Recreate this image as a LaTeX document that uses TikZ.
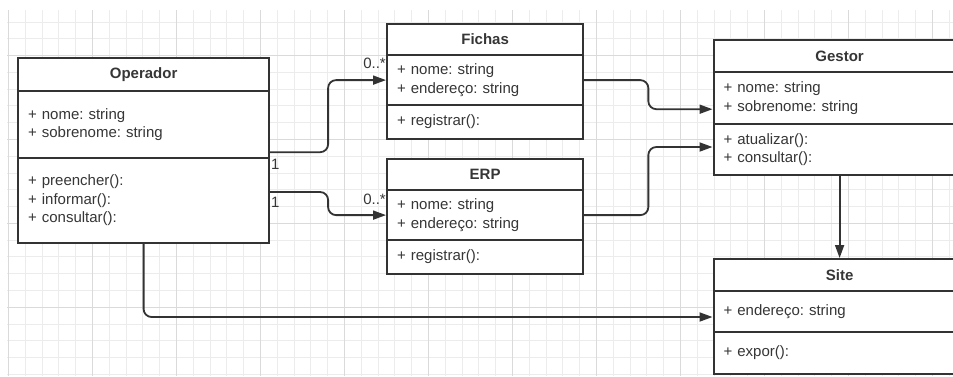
\documentclass[tikz,border=0pt]{standalone}
\usepackage{fontspec}
\setmainfont{Liberation Sans}
\usetikzlibrary{arrows.meta,calc}

\definecolor{ink}{HTML}{333333}
\definecolor{txt}{HTML}{363636}
\definecolor{gridminor}{HTML}{ECECEC}
\definecolor{gridmajor}{HTML}{DADADA}

\tikzset{
  comp/.style={draw=ink, line width=2.2pt, fill=white, anchor=north west,
    inner xsep=10pt, inner ysep=0pt, text=txt, align=left,
    font=\fontsize{15}{18.5}\selectfont},
  head/.style={comp, align=center, font=\fontsize{15}{18}\selectfont\bfseries},
  conn/.style={draw=ink, line width=1.8pt, rounded corners=8pt,
    -{Triangle[length=13pt,width=9pt]}},
  mult/.style={text=txt, inner sep=0pt, font=\fontsize{15}{15}\selectfont},
}

\begin{document}
\frenchspacing
\begin{tikzpicture}[x=1pt,y=-1pt]
  \fill[white] (0,0) rectangle (953,376);
  \path[use as bounding box, clip] (0,0) rectangle (953,376);

  % background grid
  \foreach \k in {0,...,56}
    \draw[gridminor, line width=1pt] ({8.5+16.8*\k},10) -- ({8.5+16.8*\k},376);
  \foreach \k in {0,...,21}
    \draw[gridminor, line width=1pt] (7,{22+16.78*\k}) -- (953,{22+16.78*\k});
  \foreach \k in {0,5,...,55}
    \draw[gridmajor, line width=1pt] ({8.5+16.8*\k},10) -- ({8.5+16.8*\k},376);
  \foreach \k in {2,7,12,17}
    \draw[gridmajor, line width=1pt] (7,{22+16.78*\k}) -- (953,{22+16.78*\k});

  % Operador
  \node[head, text width=231pt, minimum height=33pt] (op-t) at (17,57) {Operador};
  \node[comp, text width=231pt, minimum height=67pt] (op-a) at (17,90)
    {+ nome: string\\+ sobrenome: string};
  \node[comp, text width=231pt, minimum height=85pt] (op-m) at (17,157)
    {+ preencher():\\+ informar():\\+ consultar():};

  % Fichas
  \node[head, text width=176pt, minimum height=31pt] (fi-t) at (386,23) {Fichas};
  \node[comp, text width=176pt, minimum height=50pt] (fi-a) at (386,54)
    {+ nome: string\\+ endereço: string};
  \node[comp, text width=176pt, minimum height=34pt] (fi-m) at (386,104)
    {+ registrar():};

  % ERP
  \node[head, text width=176pt, minimum height=31pt] (er-t) at (386,158) {ERP};
  \node[comp, text width=176pt, minimum height=50pt] (er-a) at (386,189)
    {+ nome: string\\+ endereço: string};
  \node[comp, text width=176pt, minimum height=34pt] (er-m) at (386,239)
    {+ registrar():};

  % Gestor
  \node[head, text width=232pt, minimum height=32pt] (ge-t) at (712.5,39) {Gestor};
  \node[comp, text width=232pt, minimum height=52pt] (ge-a) at (712.5,71)
    {+ nome: string\\+ sobrenome: string};
  \node[comp, text width=232pt, minimum height=51pt] (ge-m) at (712.5,123)
    {+ atualizar():\\+ consultar():};

  % Site
  \node[head, text width=232pt, minimum height=32pt] (si-t) at (712.5,258) {Site};
  \node[comp, text width=232pt, minimum height=41pt] (si-a) at (712.5,290)
    {+ endereço: string};
  \node[comp, text width=232pt, minimum height=42pt] (si-m) at (712.5,331)
    {+ expor():};

  % connector helpers
  \coordinate (mx1) at ($(op-a.east)!.5!(fi-a.west)$);
  \coordinate (mx2) at ($(fi-a.east)!.5!(ge-a.west)$);
  \coordinate (op-out1) at ([yshift=7pt]op-a.south east);
  \coordinate (op-out2) at ([yshift=-35pt]op-m.north east);
  \coordinate (ge-in1) at ([yshift=16pt]ge-a.south west);
  \coordinate (ge-in2) at ([yshift=-24pt]ge-m.north west);
  \coordinate (si-in) at ([yshift=-27pt]si-a.north west);

  % associations
  \draw[conn] (op-out1) -| (mx1 |- fi-a.west) -- (fi-a.west);
  \draw[conn] (op-out2) -| (mx1 |- er-a.west) -- (er-a.west);
  \draw[conn] (fi-a.east) -| (mx2 |- ge-in1) -- (ge-in1);
  \draw[conn] (er-a.east) -| (mx2 |- ge-in2) -- (ge-in2);
  \draw[conn] (ge-m.south) -- (si-t.north);
  \draw[conn] (op-m.south) |- (si-in);

  % multiplicities
  \node[mult] (mu1) at ([xshift=5pt,yshift=-5pt]op-a.south east) {1};
  \node[mult] (mu2) at ([xshift=5pt,yshift=-45pt]op-m.north east) {1};
  \node[mult, anchor=east] (mu3) at ([xshift=0pt,yshift=17pt]fi-a.west) {0..*};
  \node[mult, anchor=east] (mu4) at ([xshift=0pt,yshift=16pt]er-a.west) {0..*};
\end{tikzpicture}
\end{document}
